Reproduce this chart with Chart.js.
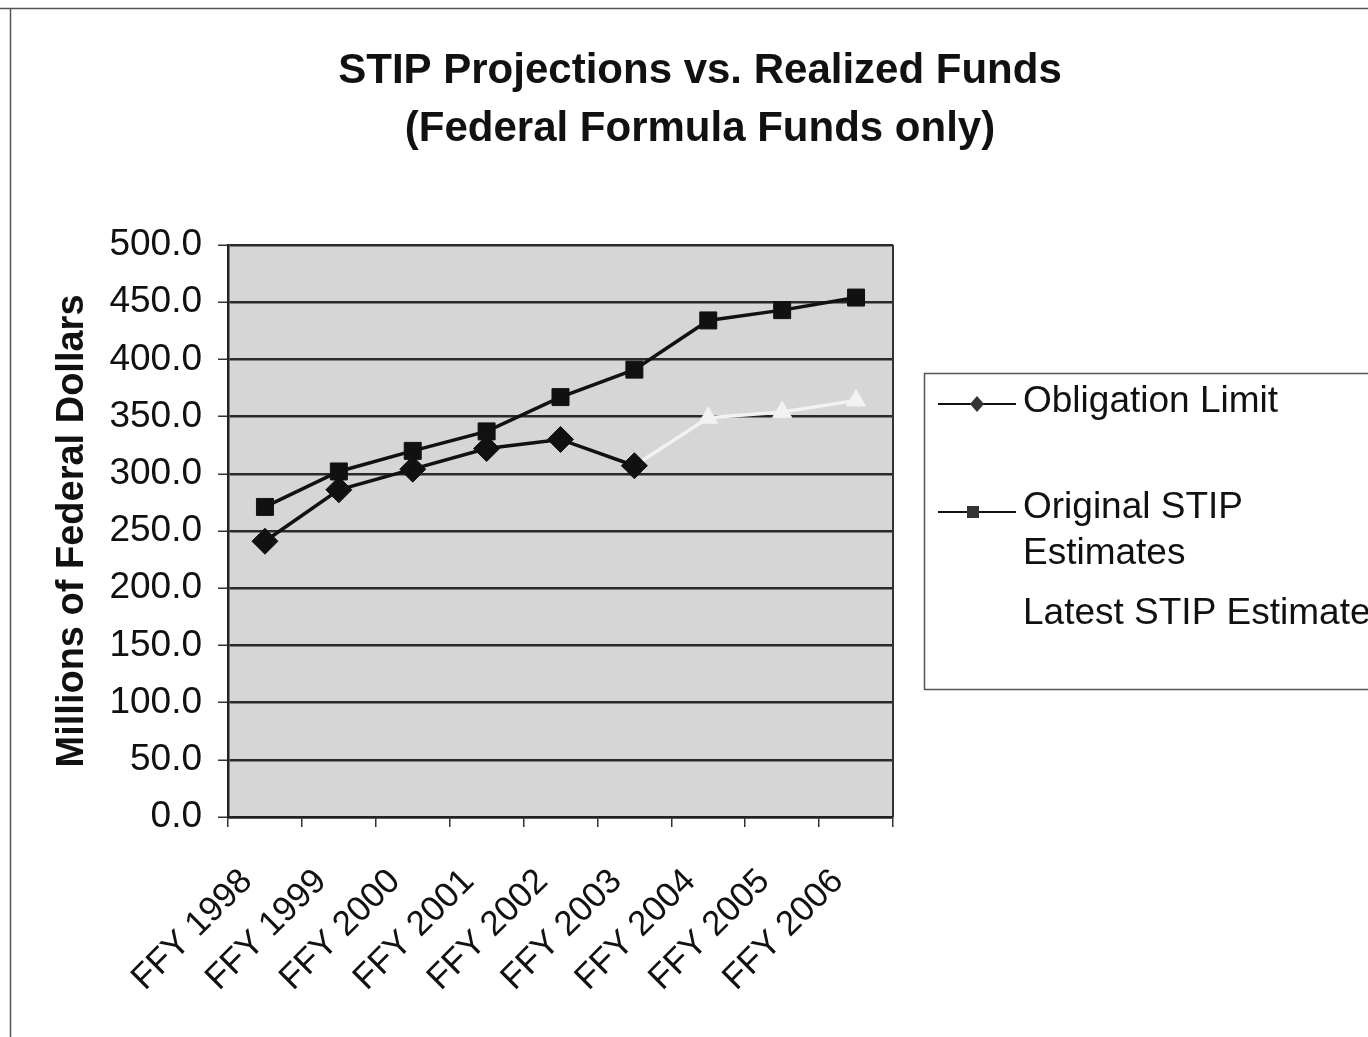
<!DOCTYPE html>
<html>
<head>
<meta charset="utf-8">
<script src="https://cdn.jsdelivr.net/npm/chart.js@4/dist/chart.umd.min.js"></script>
<style>
  html, body { margin: 0; padding: 0; background: #ffffff; }
  canvas { display: block; }
</style>
</head>
<body>
<canvas id="c" width="1368" height="1037"></canvas>
<script>
const categories = ["FFY 1998", "FFY 1999", "FFY 2000", "FFY 2001", "FFY 2002", "FFY 2003", "FFY 2004", "FFY 2005", "FFY 2006"];
const obligationLimit = [241, 286, 304, 322, 330, 307, null, null, null];
const originalStip = [271, 302, 320, 337, 367, 391, 434, 443, 454];
const latestStip = [null, null, null, null, null, 307, 349, 354, 364];
const yTicks = [0, 50, 100, 150, 200, 250, 300, 350, 400, 450, 500];
const seriesNames = ["Obligation Limit", "Original STIP Estimates", "Latest STIP Estimates"];
const titleLines = ["STIP Projections vs. Realized Funds", "(Federal Formula Funds only)"];
const yTitle = "Millions of Federal Dollars";

const FONT = "'Liberation Sans', Arial, Helvetica, sans-serif";

const backgroundPlugin = {
  id: 'bgPlot',
  beforeDraw(chart) {
    const { ctx, chartArea: a } = chart;
    ctx.save();
    ctx.fillStyle = '#ffffff';
    ctx.fillRect(0, 0, chart.width, chart.height);
    ctx.fillStyle = '#d6d6d6';
    ctx.fillRect(a.left, a.top, a.right - a.left, a.bottom - a.top);
    ctx.strokeStyle = '#555';
    ctx.lineWidth = 1.5;
    ctx.beginPath();
    ctx.moveTo(0, 8.5); ctx.lineTo(chart.width, 8.5);
    ctx.moveTo(10.5, 8.5); ctx.lineTo(10.5, chart.height);
    ctx.stroke();
    ctx.restore();
  },
  beforeDatasetsDraw(chart) {
    const { ctx, chartArea: a } = chart;
    ctx.save();
    ctx.strokeStyle = '#333';
    ctx.lineWidth = 2;
    ctx.beginPath();
    ctx.moveTo(a.right, a.top); ctx.lineTo(a.right, a.bottom);
    ctx.stroke();
    ctx.restore();
  }
};

const legendPlugin = {
  id: 'customLegend',
  afterDraw(chart) {
    const ctx = chart.ctx;
    ctx.save();
    ctx.strokeStyle = '#555';
    ctx.lineWidth = 1.5;
    ctx.strokeRect(924.5, 373.5, 470, 316);
    ctx.font = "37px " + FONT;
    ctx.fillStyle = '#111';
    ctx.textBaseline = 'middle';
    ctx.textAlign = 'left';
    ctx.strokeStyle = '#111'; ctx.lineWidth = 2;
    ctx.beginPath(); ctx.moveTo(938, 404); ctx.lineTo(1016, 404); ctx.stroke();
    ctx.fillStyle = '#333';
    ctx.beginPath();
    ctx.moveTo(977, 396); ctx.lineTo(984, 404); ctx.lineTo(977, 412); ctx.lineTo(970, 404); ctx.closePath();
    ctx.fill();
    ctx.beginPath(); ctx.moveTo(938, 512); ctx.lineTo(1016, 512); ctx.stroke();
    ctx.fillRect(967, 506, 12, 12);
    ctx.fillStyle = '#111';
    ctx.fillText(seriesNames[0], 1023, 402);
    ctx.fillText("Original STIP", 1023, 508);
    ctx.fillText("Estimates", 1023, 554);
    ctx.strokeStyle = '#ffffff';
    ctx.beginPath(); ctx.moveTo(938, 614); ctx.lineTo(1016, 614); ctx.stroke();
    ctx.fillText(seriesNames[2], 1023, 614);
    ctx.restore();
  }
};

new Chart(document.getElementById('c'), {
  type: 'line',
  data: {
    labels: categories,
    datasets: [
      {
        label: seriesNames[0],
        data: obligationLimit,
        borderColor: '#111',
        backgroundColor: '#111',
        borderWidth: 3.5,
        pointStyle: 'rectRot',
        pointRadius: 13,
        pointBorderWidth: 1,
        tension: 0,
        spanGaps: false
      },
      {
        label: seriesNames[1],
        data: originalStip,
        borderColor: '#111',
        backgroundColor: '#111',
        borderWidth: 3.5,
        pointStyle: 'rect',
        pointRadius: 12,
        pointBorderWidth: 1,
        tension: 0
      },
      {
        label: seriesNames[2],
        data: latestStip,
        borderColor: '#f2f2f2',
        backgroundColor: '#f2f2f2',
        borderWidth: 3.5,
        pointStyle: 'triangle',
        pointRadius: 11,
        pointBorderWidth: 1,
        tension: 0
      }
    ]
  },
  options: {
    responsive: false,
    animation: false,
    devicePixelRatio: 1,
    layout: { padding: { left: 32, right: 0, top: 0, bottom: 0 } },
    plugins: {
      legend: { display: false },
      tooltip: { enabled: false },
      title: {
        display: true,
        text: titleLines,
        color: '#111',
        font: { family: FONT, size: 42, weight: 'bold', lineHeight: 1.38 },
        padding: { top: 42, bottom: 87 }
      }
    },
    scales: {
      x: {
        type: 'category',
        offset: true,
        grid: {
          offset: true,
          drawOnChartArea: false,
          drawTicks: true,
          tickLength: 10,
          color: '#333',
          lineWidth: 1.5
        },
        border: { display: true, color: '#222', width: 2.5 },
        ticks: {
          color: '#111',
          font: { family: FONT, size: 35 },
          maxRotation: 45,
          minRotation: 45,
          autoSkip: false,
          padding: 34,
          labelOffset: -18
        },
        afterFit(scale) { scale.height = 220; }
      },
      y: {
        min: 0,
        max: 500,
        afterBuildTicks(scale) { scale.ticks = yTicks.map(v => ({ value: v })); },
        grid: {
          color: '#2a2a2a',
          lineWidth: 2.5,
          drawTicks: true,
          tickLength: 10,
          tickColor: '#333',
          tickWidth: 1.5
        },
        border: { display: true, color: '#222', width: 2.5 },
        ticks: {
          color: '#111',
          font: { family: FONT, size: 37 },
          padding: 16,
          callback: v => Number(v).toFixed(1)
        },
        title: {
          display: true,
          text: yTitle,
          color: '#111',
          font: { family: FONT, size: 38, weight: 'bold', lineHeight: 1.2 },
          padding: { top: 18, bottom: 0 }
        },
        afterFit(scale) { scale.width = 196; }
      },
      yR: {
        position: 'right',
        display: true,
        min: 0,
        max: 500,
        grid: { display: false, drawOnChartArea: false },
        border: { display: false },
        ticks: { display: false },
        afterFit(scale) { scale.width = 475; }
      }
    }
  },
  plugins: [backgroundPlugin, legendPlugin]
});
</script>
</body>
</html>
